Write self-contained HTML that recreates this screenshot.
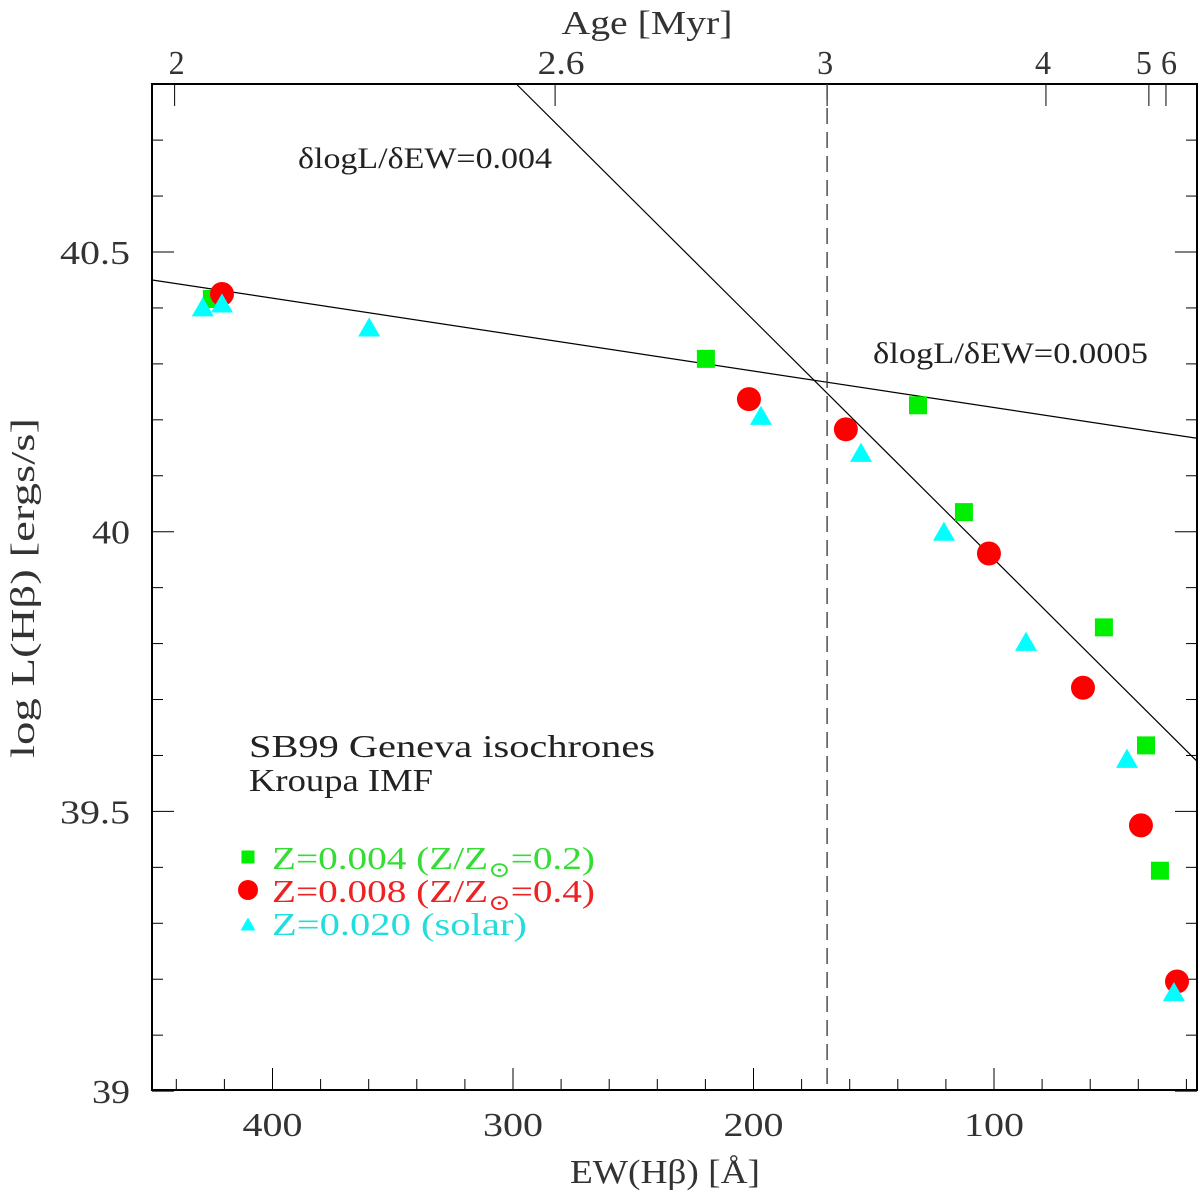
<!DOCTYPE html>
<html><head><meta charset="utf-8">
<style>
html,body{margin:0;padding:0;background:#fff;}
svg text{font-family:"Liberation Serif","DejaVu Serif",serif;}
</style></head>
<body>
<svg id="chart" width="1200" height="1191" viewBox="0 0 1200 1191" xmlns="http://www.w3.org/2000/svg">
<rect x="0" y="0" width="1200" height="1191" fill="#fff"/>
<g id="plot"></g>
</svg>
<script>
const ewTicks=[400,300,200,100];
const ewMinor=[440,420,380,360,340,320,280,260,240,220,180,160,140,120,80,60,40,20];
const yTicks=[39,39.5,40,40.5];
const yTickLabels=["39","39.5","40","40.5"];
const yMinor=[39.1,39.2,39.3,39.4,39.6,39.7,39.8,39.9,40.1,40.2,40.3,40.4,40.6,40.7];
const ageLabels=["2","2.6","3","4","5","6"];
const ageEW=[440.7,282.5,169.4,78.4,35.6,28.5];
const greenEW=[425.2,219.8,131.6,112.5,54.3,36.8,31.0];
const greenL=[40.416,40.309,40.226,40.035,39.829,39.618,39.394];
const redEW=[421,201.9,161.6,102.1,63.0,38.9,23.9];
const redL=[40.425,40.237,40.183,39.961,39.721,39.475,39.196];
const cyanEW=[429,421,359.8,196.9,155.3,120.8,86.7,44.7,25.2];
const cyanL=[40.402,40.409,40.366,40.208,40.142,40.001,39.804,39.595,39.178];
const steepEW=[298.3,15.2];
const steepL=[40.799,39.588];
const shallowEW=[450,15.6];
const shallowL=[40.45,40.167];
const dashedEW=169.4;

const L=152,R=1197,T=84,B=1090;
function X(ew){return 1234.5-ew*2.405;}
function Y(v){return 252-(v-40.5)*559.4;}
const NS="http://www.w3.org/2000/svg";
const g=document.getElementById('plot');
function mk(tag,attrs,parent){const e=document.createElementNS(NS,tag);for(const k in attrs)e.setAttribute(k,attrs[k]);(parent||g).appendChild(e);return e;}
function txt(x,y,s,size,anchor,len,fill,extra){const a={x:x,y:y,'font-size':size,'text-anchor':anchor,fill:fill||'#333'};if(len){a.textLength=len;a.lengthAdjust='spacingAndGlyphs';}for(const k in (extra||{}))a[k]=extra[k];const e=mk('text',a);e.textContent=s;return e;}

const defs=mk('defs',{});
const cp=mk('clipPath',{id:'clip'},defs);
mk('rect',{x:L,y:T,width:R-L,height:B-T},cp);

let f=mk('rect',{x:L,y:T,width:R-L,height:B-T,fill:'none',stroke:'#000','stroke-width':2});



ewTicks.forEach((v,i)=>{
  let t=mk('line',{x1:X(v),x2:X(v),y1:B,y2:B-22,stroke:'#000','stroke-width':1});
  
  
  let lb=txt(X(v),1136,String(v),34,'middle',String(v).length*20);
  
  
});
ewMinor.forEach(v=>{
  let t=mk('line',{x1:X(v),x2:X(v),y1:B,y2:B-11,stroke:'#000','stroke-width':1});
  
  
});
yTicks.forEach((v,i)=>{
  [[L,L+22],[R,R-22]].forEach(p=>{
    let t=mk('line',{x1:p[0],x2:p[1],y1:Y(v),y2:Y(v),stroke:'#000','stroke-width':1});
    
    
  });
  const s=yTickLabels[i];
  let lb=txt(130,Y(v)+12,s,34,'end',s.length>2?70:38);
  
  
});
yMinor.forEach(v=>{
  [[L,L+11],[R,R-11]].forEach(p=>{
    let t=mk('line',{x1:p[0],x2:p[1],y1:Y(v),y2:Y(v),stroke:'#000','stroke-width':1});
    
    
  });
});
ageEW.forEach((v,i)=>{
  let t=mk('line',{x1:X(v),x2:X(v),y1:T,y2:T+22,stroke:'#000','stroke-width':1});
  
  
});
const ageShift=[2,6,-2,-3,-5,3];
ageLabels.forEach((s,i)=>{
  let lb=txt(X(ageEW[i])+ageShift[i],74,s,34,'middle',s.length>1?47:16);
  
  
});

let at=txt(665,1183,'EW(Hβ) [Å]',34,'middle',190);


let tt=txt(647,34,'Age [Myr]',34,'middle',171);


let yt=txt(0,0,'log L(Hβ) [ergs/s]',34,'middle',340,'#333',{transform:'translate(34,588) rotate(-90)'});



const lg=mk('g',{'clip-path':'url(#clip)'});
let s1=mk('line',{x1:X(steepEW[0]),y1:Y(steepL[0]),x2:X(steepEW[1]),y2:Y(steepL[1]),stroke:'#000','stroke-width':1.2},lg);


let s2=mk('line',{x1:X(shallowEW[0]),y1:Y(shallowL[0]),x2:X(shallowEW[1]),y2:Y(shallowL[1]),stroke:'#000','stroke-width':1.2},lg);


let dl=mk('line',{x1:X(dashedEW),x2:X(dashedEW),y1:T,y2:B,stroke:'#333','stroke-width':1.3,'stroke-dasharray':'16,8'},lg);



let a1=txt(298,168,'δlogL/δEW=0.004',30,'start',254,'#222');


let a2=txt(873,363,'δlogL/δEW=0.0005',30,'start',275,'#222');


let a3=txt(249,757,'SB99 Geneva isochrones',32,'start',406,'#222');


let a4=txt(249,791,'Kroupa IMF',32,'start',184,'#222');



function square(x,y,s,c,name){let e=mk('rect',{x:x-s/2,y:y-s/2,width:s,height:s,fill:c});}
function circ(x,y,r,c,name){let e=mk('circle',{cx:x,cy:y,r:r,fill:c});}
function tri(x,y,s,c,name){let h=s*0.87;let e=mk('polygon',{points:`${x-s/2},${y+h/2} ${x+s/2},${y+h/2} ${x},${y-h/2}`,fill:c});}
greenEW.forEach((v,i)=>square(X(v),Y(greenL[i]),18,'#00ee00','green-point'));
redEW.forEach((v,i)=>circ(X(v),Y(redL[i]),12,'#ff0000','red-point'));
cyanEW.forEach((v,i)=>tri(X(v),Y(cyanL[i]),22,'#00ffff','cyan-point'));

square(248,857,13,'#00ee00','legend-marker-green');
circ(248,890,10,'#ff0000','legend-marker-red');
tri(248,924,15,'#00ffff','legend-marker-cyan');
function legText(y,c,html,len,name){let e=mk('text',{x:272,y:y,'font-size':32,fill:c});e.innerHTML=html;
  const w=e.getComputedTextLength();if(w>0){e.setAttribute('transform',`translate(272,0) scale(${len/w},1) translate(-272,0)`);} }
legText(869,'#33dd33','Z=0.004 (Z/Z<tspan font-size="22" dy="8">⊙</tspan><tspan dy="-8">=0.2)</tspan>',323,'legend-entry-z0004');
legText(902,'#ee2222','Z=0.008 (Z/Z<tspan font-size="22" dy="8">⊙</tspan><tspan dy="-8">=0.4)</tspan>',323,'legend-entry-z0008');
legText(935,'#22dddd','Z=0.020 (solar)',255,'legend-entry-z0020');
</script>
</body></html>
